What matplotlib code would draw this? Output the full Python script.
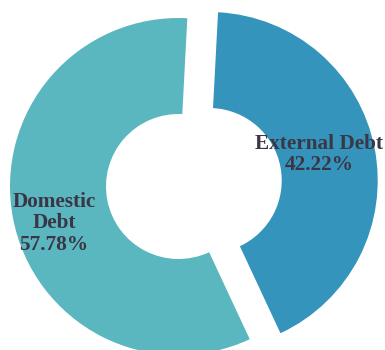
import matplotlib
matplotlib.use("Agg")
import matplotlib.pyplot as plt

labels = ["External Debt", "Domestic Debt"]
shares = [42.22, 57.78]
colors = ["#3594bb", "#5ab6bf"]
label_texts = ["External Debt\n42.22%", "Domestic\nDebt\n57.78%"]

W, H = 385, 350
fig = plt.figure(figsize=(W / 100, H / 100), dpi=100)
ax = fig.add_axes([0, 0, 1, 1])

cx, cy = 178.5, H - 186.5
R = 168.5
inner = 72.5
ax.pie(shares, colors=colors, startangle=87, counterclock=False,
       center=(cx, cy), radius=R, explode=[31.3, 0],
       wedgeprops=dict(width=R - inner, linewidth=0))

ax.set_xlim(0, W)
ax.set_ylim(0, H)
ax.set_aspect("auto")
ax.axis("off")

txt_kw = dict(ha="center", va="center", fontsize=15.3, fontweight="bold",
              family=["Liberation Serif", "DejaVu Serif"], color="#3b3646",
              linespacing=1.1)
ax.text(319, H - 154.5, label_texts[0], **txt_kw)
ax.text(54, H - 223.5, label_texts[1], **txt_kw)

fig.savefig("out.png", dpi=100)
